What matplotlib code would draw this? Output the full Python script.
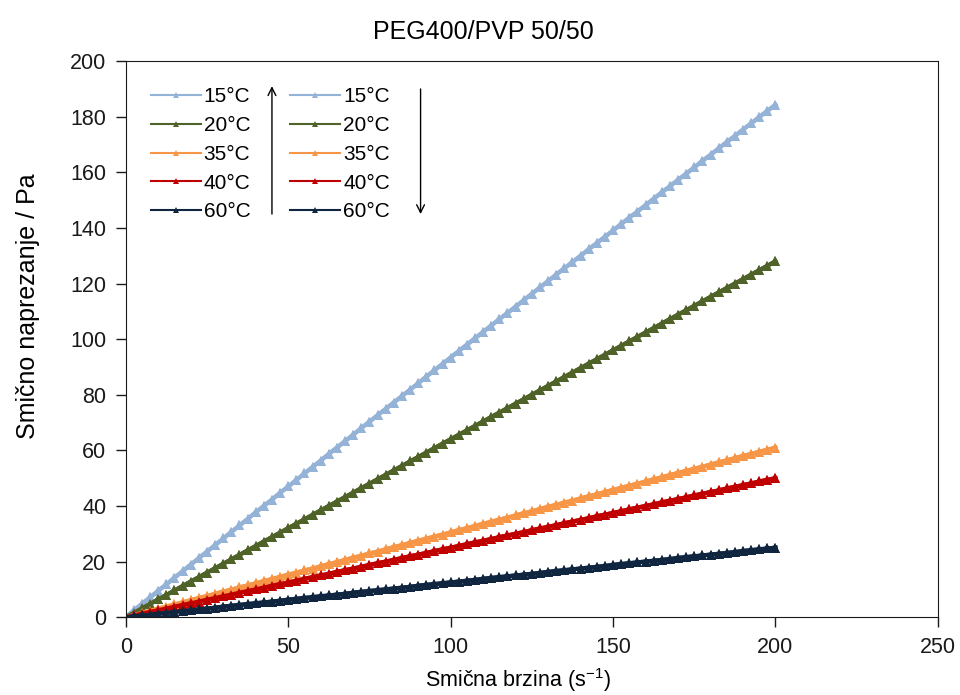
"""
PEG400/PVP 50/50 - flow curves, ramp up and ramp down
"""

import numpy as np
import matplotlib
matplotlib.use('Agg')
import matplotlib.pyplot as plt

plt.rcParams['font.family'] = ['Liberation Sans', 'DejaVu Sans']
plt.rcParams['mathtext.fontset'] = 'custom'
plt.rcParams['mathtext.rm'] = 'Liberation Sans'

# shear rate (1/s)
shear_rate = [0, 2.5, 5, 7.5, 10, 12.5, 15, 17.5, 20, 22.5, 25, 27.5, 30, 32.5,
              35, 37.5, 40, 42.5, 45, 47.5, 50, 52.5, 55, 57.5, 60, 62.5, 65,
              67.5, 70, 72.5, 75, 77.5, 80, 82.5, 85, 87.5, 90, 92.5, 95, 97.5,
              100, 102.5, 105, 107.5, 110, 112.5, 115, 117.5, 120, 122.5, 125,
              127.5, 130, 132.5, 135, 137.5, 140, 142.5, 145, 147.5, 150, 152.5,
              155, 157.5, 160, 162.5, 165, 167.5, 170, 172.5, 175, 177.5, 180,
              182.5, 185, 187.5, 190, 192.5, 195, 197.5, 200]

# shear stress (Pa)
stress_15 = [0, 2.4, 4.8, 7.1, 9.5, 11.8, 14.2, 16.5, 18.9, 21.2, 23.6, 25.9,
             28.3, 30.6, 33.0, 35.3, 37.7, 40.0, 42.3, 44.7, 47.0, 49.3, 51.7,
             54.0, 56.3, 58.7, 61.0, 63.3, 65.6, 68.0, 70.3, 72.6, 74.9, 77.2,
             79.5, 81.8, 84.1, 86.5, 88.8, 91.1, 93.4, 95.7, 98.0, 100.3, 102.6,
             104.9, 107.2, 109.4, 111.7, 114.0, 116.3, 118.6, 120.9, 123.2,
             125.5, 127.7, 130.0, 132.3, 134.6, 136.8, 139.1, 141.4, 143.7,
             145.9, 148.2, 150.5, 152.8, 155.0, 157.3, 159.5, 161.8, 164.1,
             166.3, 168.6, 170.9, 173.1, 175.4, 177.6, 179.9, 182.1, 184.3]
stress_20 = [0, 1.6, 3.2, 4.8, 6.4, 8.0, 9.6, 11.2, 12.8, 14.4, 16.0, 17.6, 19.2,
             20.8, 22.4, 24.0, 25.6, 27.2, 28.8, 30.4, 32.0, 33.6, 35.2, 36.8,
             38.4, 40.0, 41.6, 43.2, 44.8, 46.4, 48.0, 49.6, 51.2, 52.8, 54.4,
             56.0, 57.6, 59.2, 60.8, 62.4, 64.0, 65.6, 67.2, 68.8, 70.4, 72.0,
             73.6, 75.2, 76.8, 78.4, 80.0, 81.6, 83.2, 84.8, 86.4, 88.0, 89.6,
             91.2, 92.8, 94.4, 96.0, 97.6, 99.2, 100.8, 102.4, 104.0, 105.6,
             107.2, 108.8, 110.4, 112.0, 113.6, 115.2, 116.8, 118.4, 120.0,
             121.6, 123.2, 124.8, 126.4, 128.0]
stress_35 = [0, 0.8, 1.5, 2.3, 3.1, 3.8, 4.6, 5.3, 6.1, 6.9, 7.6, 8.4, 9.2, 9.9,
             10.7, 11.4, 12.2, 13.0, 13.7, 14.5, 15.3, 16.0, 16.8, 17.5, 18.3,
             19.1, 19.8, 20.6, 21.4, 22.1, 22.9, 23.6, 24.4, 25.2, 25.9, 26.7,
             27.5, 28.2, 29.0, 29.7, 30.5, 31.3, 32.0, 32.8, 33.6, 34.3, 35.1,
             35.8, 36.6, 37.4, 38.1, 38.9, 39.7, 40.4, 41.2, 41.9, 42.7, 43.5,
             44.2, 45.0, 45.8, 46.5, 47.3, 48.0, 48.8, 49.6, 50.3, 51.1, 51.9,
             52.6, 53.4, 54.1, 54.9, 55.7, 56.4, 57.2, 58.0, 58.7, 59.5, 60.2,
             61.0]
stress_40 = [0, 0.6, 1.3, 1.9, 2.5, 3.1, 3.8, 4.4, 5.0, 5.6, 6.3, 6.9, 7.5, 8.1,
             8.8, 9.4, 10.0, 10.6, 11.3, 11.9, 12.5, 13.1, 13.8, 14.4, 15.0,
             15.6, 16.3, 16.9, 17.5, 18.1, 18.8, 19.4, 20.0, 20.6, 21.3, 21.9,
             22.5, 23.1, 23.8, 24.4, 25.0, 25.6, 26.3, 26.9, 27.5, 28.1, 28.8,
             29.4, 30.0, 30.6, 31.3, 31.9, 32.5, 33.1, 33.8, 34.4, 35.0, 35.6,
             36.3, 36.9, 37.5, 38.1, 38.8, 39.4, 40.0, 40.6, 41.3, 41.9, 42.5,
             43.1, 43.8, 44.4, 45.0, 45.6, 46.3, 46.9, 47.5, 48.1, 48.8, 49.4,
             50.0]
stress_60 = [0, 0.3, 0.6, 0.9, 1.3, 1.6, 1.9, 2.2, 2.5, 2.8, 3.1, 3.4, 3.8, 4.1,
             4.4, 4.7, 5.0, 5.3, 5.6, 5.9, 6.3, 6.6, 6.9, 7.2, 7.5, 7.8, 8.1,
             8.4, 8.8, 9.1, 9.4, 9.7, 10.0, 10.3, 10.6, 10.9, 11.3, 11.6, 11.9,
             12.2, 12.5, 12.8, 13.1, 13.4, 13.8, 14.1, 14.4, 14.7, 15.0, 15.3,
             15.6, 15.9, 16.3, 16.6, 16.9, 17.2, 17.5, 17.8, 18.1, 18.4, 18.8,
             19.1, 19.4, 19.7, 20.0, 20.3, 20.6, 20.9, 21.3, 21.6, 21.9, 22.2,
             22.5, 22.8, 23.1, 23.4, 23.8, 24.1, 24.4, 24.7, 25.0]

labels = ['15°C', '20°C', '35°C', '40°C', '60°C']
colors = ['#95B3D7', '#4F6228', '#F79646', '#C00000', '#10253F']
series = [stress_15, stress_20, stress_35, stress_40, stress_60]

fig = plt.figure(figsize=(9.6, 6.95), dpi=100)
ax = fig.add_axes([0.131, 0.112, 0.846, 0.8])

handles_up = []
handles_down = []
for y, c, lab in zip(series, colors, labels):
    # ramp up
    h, = ax.plot(shear_rate, y, color=c, lw=3, marker='^', ms=7,
                 mew=0, label=lab)
    handles_up.append(h)
for y, c, lab in zip(series, colors, labels):
    # ramp down
    h, = ax.plot(shear_rate[::-1], y[::-1], color=c, lw=3, marker='^', ms=7,
                 mew=0, label=lab)
    handles_down.append(h)

ax.set_xlim(0, 250)
ax.set_ylim(0, 200)
ax.set_xticks(np.arange(0, 251, 50))
ax.set_yticks(np.arange(0, 201, 20))
ax.tick_params(direction='out', length=7, width=1, labelsize=15.5,
               colors='#1a1a1a', pad=7)
for s in ax.spines.values():
    s.set_color('#1a1a1a')

ax.set_xlabel('Smična brzina (s$^{-1}$)', fontsize=15.5)
ax.xaxis.set_label_coords(0.483, -0.088)
ax.set_ylabel('Smično naprezanje / Pa', fontsize=18)
ax.yaxis.set_label_coords(-0.105, 0.56)
fig.text(0.504, 0.954, 'PEG400/PVP 50/50', ha='center', va='center', fontsize=18)

leg_handles = []
for h in handles_up + handles_down:
    lh, = ax.plot([], [], color=h.get_color(), lw=1.5, marker='^', ms=4, mew=0)
    leg_handles.append(lh)
ax.legend(leg_handles, labels + labels, ncol=2, loc='upper left',
          bbox_to_anchor=(0.01, 0.983), frameon=False, fontsize=15,
          handlelength=2.4, handletextpad=0.15, labelspacing=0.47,
          columnspacing=1.9, borderpad=0.3)

ax.annotate('', xy=(0.18, 0.96), xytext=(0.18, 0.72), xycoords='axes fraction',
            arrowprops=dict(arrowstyle='->', color='black', lw=1,
                            mutation_scale=14))
ax.annotate('', xy=(0.363, 0.72), xytext=(0.363, 0.955), xycoords='axes fraction',
            arrowprops=dict(arrowstyle='->', color='black', lw=1,
                            mutation_scale=14))

fig.savefig('out.png', dpi=100)
